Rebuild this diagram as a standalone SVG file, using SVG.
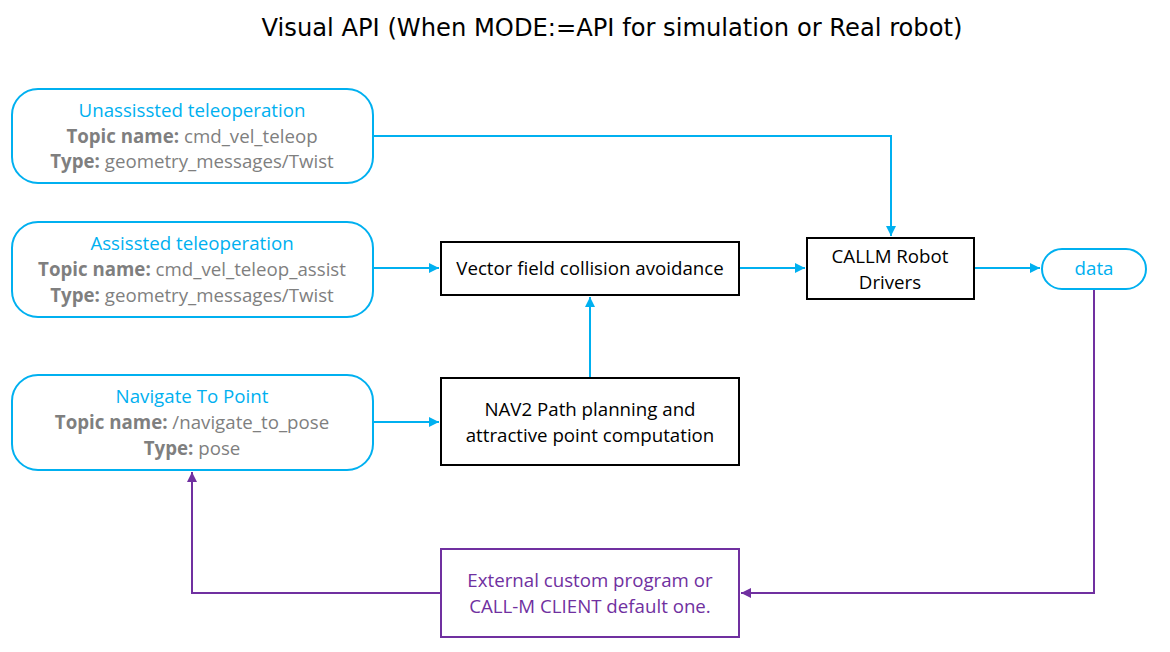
<svg xmlns="http://www.w3.org/2000/svg" width="1170" height="652" viewBox="0 0 1170 652">
<defs>
<style>
.t{font-family:"Open Sans","Liberation Sans",sans-serif;font-size:18.7px;text-anchor:middle}
.blue{fill:#00B0F0}
.gray{fill:#7F7F7F}
.blk{fill:#000}
.pur{fill:#7030A0}
.rb{fill:#fff;stroke:#00B0F0;stroke-width:2}
.bx{fill:#fff;stroke:#000;stroke-width:2}
.pb{fill:#fff;stroke:#7030A0;stroke-width:2}
.cb{fill:none;stroke:#00B0F0;stroke-width:2}
.cp{fill:none;stroke:#7030A0;stroke-width:2}
</style>
<marker id="ab" viewBox="0 0 10 10" refX="10" refY="5" markerWidth="5" markerHeight="5" orient="auto"><path d="M0,0L10,5L0,10z" fill="#00B0F0"/></marker>
<marker id="ap" viewBox="0 0 10 10" refX="10" refY="5" markerWidth="5" markerHeight="5" orient="auto"><path d="M0,0L10,5L0,10z" fill="#7030A0"/></marker>
</defs>
<rect width="1170" height="652" fill="#fff"/>
<text x="612" y="36" style="font-family:'DejaVu Sans',sans-serif;font-size:24.2px;text-anchor:middle" fill="#000">Visual API (When MODE:=API for simulation or Real robot)</text>
<g id="connectors">
<path class="cb" d="M373,136H891V236" marker-end="url(#ab)"/>
<path class="cb" d="M373,268H439" marker-end="url(#ab)"/>
<path class="cb" d="M739,268H805" marker-end="url(#ab)"/>
<path class="cb" d="M974,268H1040" marker-end="url(#ab)"/>
<path class="cb" d="M590,378V297" marker-end="url(#ab)"/>
<path class="cb" d="M373,422H439" marker-end="url(#ab)"/>
<path class="cp" d="M1094,289V593H741" marker-end="url(#ap)"/>
<path class="cp" d="M441,593H192V472" marker-end="url(#ap)"/>
</g>
<g id="unassisted">
<rect class="rb" x="12" y="89" width="361" height="94" rx="26"/>
<text class="t blue" x="192" y="117">Unassissted teleoperation</text>
<text class="t gray" x="192" y="143"><tspan font-weight="bold">Topic name:</tspan> cmd_vel_teleop</text>
<text class="t gray" x="192" y="168"><tspan font-weight="bold">Type:</tspan> geometry_messages/Twist</text>
</g>
<g id="assisted">
<rect class="rb" x="12" y="222" width="361" height="95" rx="26"/>
<text class="t blue" x="192" y="250">Assissted teleoperation</text>
<text class="t gray" x="192" y="276"><tspan font-weight="bold">Topic name:</tspan> cmd_vel_teleop_assist</text>
<text class="t gray" x="192" y="302"><tspan font-weight="bold">Type:</tspan> geometry_messages/Twist</text>
</g>
<g id="navigate">
<rect class="rb" x="12" y="375" width="361" height="95" rx="26"/>
<text class="t blue" x="192" y="403">Navigate To Point</text>
<text class="t gray" x="192" y="429"><tspan font-weight="bold">Topic name:</tspan> /navigate_to_pose</text>
<text class="t gray" x="192" y="455"><tspan font-weight="bold">Type:</tspan> pose</text>
</g>
<g id="vector">
<rect class="bx" x="441" y="242" width="298" height="53"/>
<text class="t blk" x="590" y="275">Vector field collision avoidance</text>
</g>
<g id="nav2">
<rect class="bx" x="441" y="378" width="298" height="87"/>
<text class="t blk" x="590" y="416">NAV2 Path planning and</text>
<text class="t blk" x="590" y="442">attractive point computation</text>
</g>
<g id="callm">
<rect class="bx" x="807" y="238" width="167" height="61"/>
<text class="t blk" x="890" y="263">CALLM Robot</text>
<text class="t blk" x="890" y="289">Drivers</text>
</g>
<g id="data">
<rect class="rb" x="1042" y="249" width="104" height="40" rx="20"/>
<text class="t blue" x="1094" y="275">data</text>
</g>
<g id="external">
<rect class="pb" x="441" y="549" width="298" height="88"/>
<text class="t pur" x="590" y="587">External custom program or</text>
<text class="t pur" x="590" y="613">CALL-M CLIENT default one.</text>
</g>
</svg>
